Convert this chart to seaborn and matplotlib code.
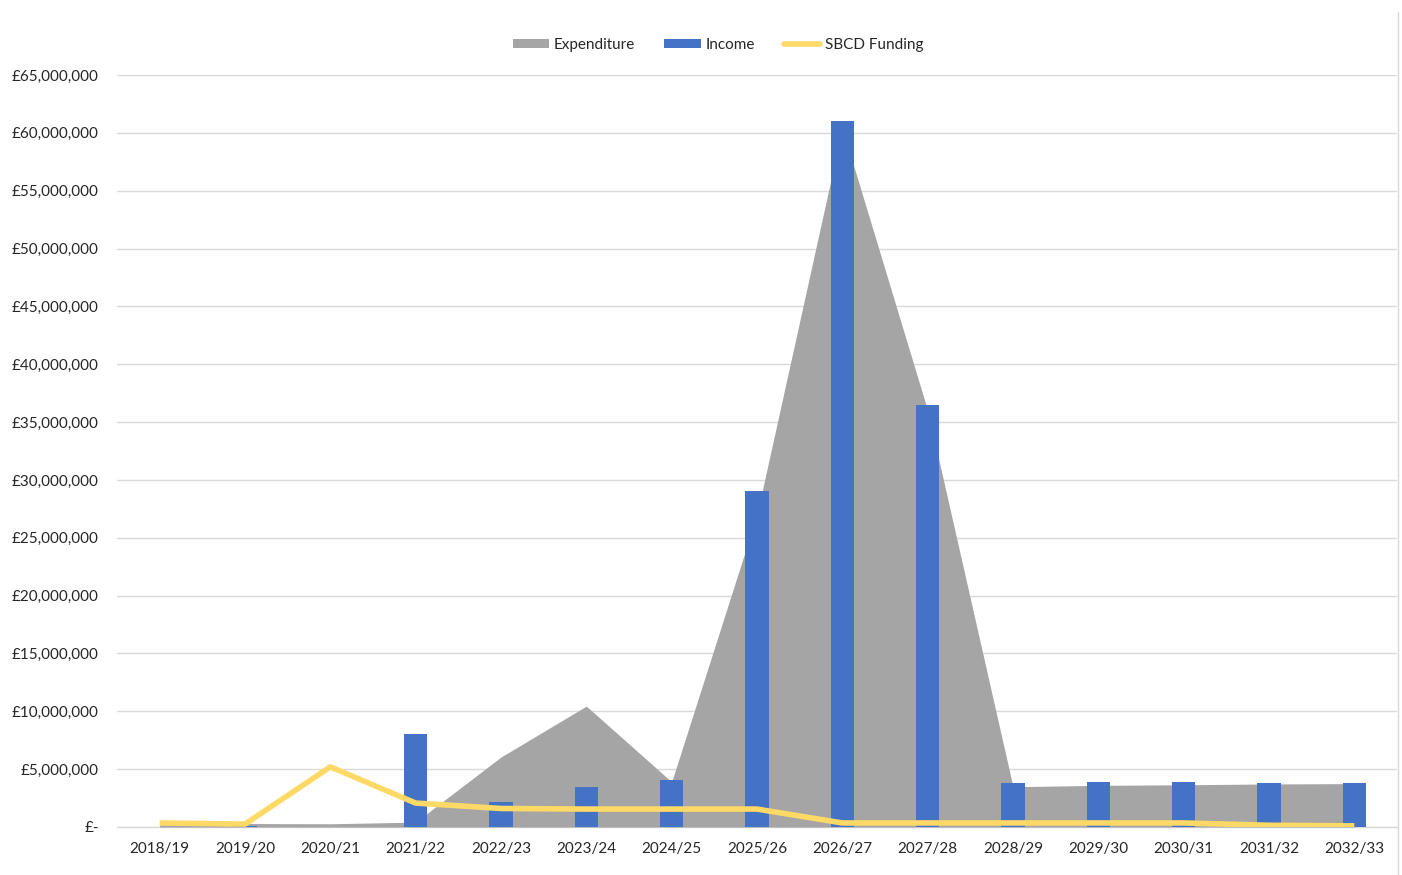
import numpy as np
import pandas as pd
import matplotlib
matplotlib.use("Agg")
import matplotlib.pyplot as plt
import matplotlib.ticker as mticker
from matplotlib.patches import Patch
from matplotlib.lines import Line2D
import seaborn as sns

# Financial years
years = ["2018/19", "2019/20", "2020/21", "2021/22", "2022/23", "2023/24", "2024/25",
         "2025/26", "2026/27", "2027/28", "2028/29", "2029/30", "2030/31", "2031/32", "2032/33"]

# Annual totals in pounds
expenditure = [200_000, 300_000, 280_000, 420_000, 6_050_000, 10_450_000, 3_900_000,
               27_000_000, 60_400_000, 36_000_000, 3_480_000, 3_600_000, 3_650_000, 3_720_000, 3_750_000]
income = [0, 100_000, 0, 8_000_000, 2_150_000, 3_480_000, 4_050_000,
          29_000_000, 61_000_000, 36_500_000, 3_800_000, 3_900_000, 3_900_000, 3_800_000, 3_800_000]
sbcd_funding = [350_000, 250_000, 5_200_000, 2_070_000, 1_600_000, 1_550_000, 1_550_000,
                1_550_000, 350_000, 350_000, 350_000, 350_000, 350_000, 150_000, 100_000]

y_ticks = list(range(0, 65_000_001, 5_000_000))

GREY = "#A5A5A5"
BLUE = "#4472C4"
YELLOW = "#FFD966"
GRID = "#D9D9D9"
TEXT = "#262626"

sns.set_theme(style="white")
plt.rcParams["font.family"] = ["Lato", "DejaVu Sans"]

df = pd.DataFrame({"year": years, "pos": np.arange(len(years)),
                   "expenditure": expenditure, "income": income, "sbcd": sbcd_funding})

fig = plt.figure(figsize=(14.02, 8.75), dpi=100)
ax = fig.add_axes([117 / 1402, 1 - 827 / 875, 1280 / 1402, 752 / 875])

# Expenditure as a filled area behind everything else
ax.fill_between(df["pos"], df["expenditure"], 0, color=GREY, linewidth=0, zorder=1)

# Income as narrow columns
sns.barplot(data=df, x="pos", y="income", color=BLUE, saturation=1, width=0.27,
            ax=ax, zorder=2, linewidth=0)

# SBCD funding as a thick line on top
sns.lineplot(data=df, x="pos", y="sbcd", color=YELLOW, linewidth=4.0, ax=ax,
             zorder=3, solid_capstyle="butt")

ax.set_xlim(-0.5, len(years) - 0.5)
ax.set_ylim(0, 65_000_000)
ax.set_yticks(y_ticks)
ax.yaxis.set_major_formatter(mticker.FuncFormatter(
    lambda v, _: "£-" if v == 0 else f"£{v:,.0f}"))
ax.set_xticks(df["pos"])
ax.set_xticklabels(years)
ax.set_xticks(np.arange(-0.5, len(years)), minor=True)
ax.tick_params(axis="x", which="major", length=0, pad=11, labelsize=11, labelcolor=TEXT)
ax.tick_params(axis="x", which="minor", length=6, color=GRID, width=1, direction="out")
ax.tick_params(axis="y", length=0, pad=13, labelsize=11, labelcolor=TEXT)
ax.set_xlabel("")
ax.set_ylabel("")

ax.grid(axis="y", color=GRID, linewidth=1)
ax.set_axisbelow(True)
for side in ["left", "right", "top"]:
    ax.spines[side].set_visible(False)
ax.spines["bottom"].set_color(GRID)
ax.spines["bottom"].set_linewidth(1)
ax.spines["bottom"].set_zorder(0.5)

handles = [Patch(facecolor=GREY, edgecolor="none"),
           Patch(facecolor=BLUE, edgecolor="none"),
           Line2D([0], [0], color=YELLOW, linewidth=4.0)]
fig.legend(handles, ["Expenditure", "Income", "SBCD Funding"], loc="center",
           bbox_to_anchor=(718 / 1402, 1 - 45 / 875), ncol=3, frameon=False,
           fontsize=11, handlelength=2.4, handleheight=0.6, handletextpad=0.3,
           columnspacing=1.9, labelcolor=TEXT)

# Chart border on the right
fig.add_artist(Line2D([1398 / 1402, 1398 / 1402], [0, 1 - 12 / 875],
                      transform=fig.transFigure, color=GRID, linewidth=1))

fig.savefig("out.png", dpi=100)
